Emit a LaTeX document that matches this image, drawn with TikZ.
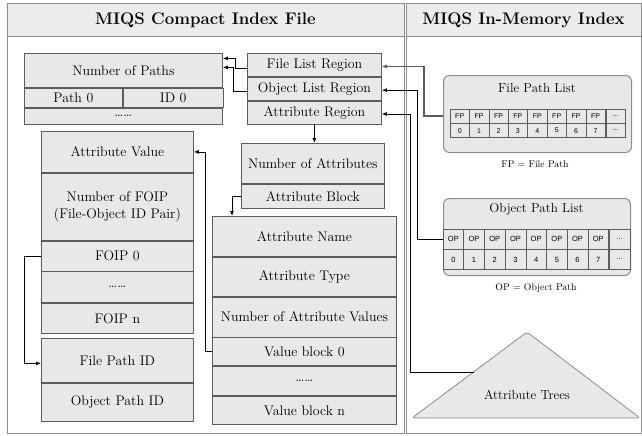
\documentclass[tikz,border=0pt]{standalone}
\usepackage{fontspec}
\newfontfamily\cellfont{Liberation Sans}
\usepackage{tikz}
\usetikzlibrary{arrows.meta, positioning}

\definecolor{boxfill}{HTML}{E8E8E8}
\definecolor{boxline}{HTML}{5C5C5C}
\definecolor{frameline}{HTML}{8C8C8C}
\definecolor{titlefill}{HTML}{ECECEC}

\begin{document}
\begin{tikzpicture}[x=1pt, y=-1pt,
        box/.style={rectangle, draw=boxline, fill=boxfill, line width=0.8pt, inner sep=0pt, align=center, font=\fontsize{13.9}{17}\selectfont},
        title/.style={font=\fontsize{16.8}{20}\selectfont\bfseries},
        listbox/.style={rectangle, rounded corners=6pt, draw=frameline, fill=boxfill, line width=1pt, anchor=north west},
        cell/.style={rectangle, draw=boxline, fill=boxfill, line width=0.6pt, inner sep=0pt, font=\cellfont\fontsize{7}{8}\selectfont},
        note/.style={font=\fontsize{9.8}{11}\selectfont},
        label/.style={font=\fontsize{13}{14}\selectfont},
        arrow/.style={-{Latex[length=5pt, width=4pt]}, line width=0.8pt}
    ]
        \useasboundingbox (0,0) rectangle (642,436);
        % panels
        \draw[frameline, line width=1pt, fill=white] (7,4) rectangle (404,433);
        \draw[frameline, line width=1pt, fill=white] (406.5,4) rectangle (641,433);
        \draw[frameline, line width=1pt, fill=titlefill] (7,4) rectangle (404,37);
        \draw[frameline, line width=1pt, fill=titlefill] (406.5,4) rectangle (641,37);
        \node[title] (ltitle) at (205.5,20.5) {MIQS Compact Index File};
        \node[title] (rtitle) at (523.5,20.5) {MIQS In-Memory Index};

        % path list in the file
        \node[box, minimum width=198, minimum height=34, anchor=north west] (npaths) at (24,53) {Number of Paths};
        \node[box, minimum width=98, minimum height=19, anchor=north west] (path0) at (npaths.south west) {Path 0};
        \node[box, minimum width=100, minimum height=19, anchor=north west] (id0) at (path0.north east) {ID 0};
        \node[box, minimum width=198, minimum height=16, anchor=north west] (pdots) at (path0.south west) {\dots\dots};

        % regions
        \node[box, minimum width=134, minimum height=23, anchor=north west] (flist) at (247,53) {File List Region};
        \node[box, minimum width=134, minimum height=23, below=0pt of flist] (olist) {Object List Region};
        \node[box, minimum width=134, minimum height=23, below=0pt of olist] (aregion) {Attribute Region};

        \node[box, minimum width=143, minimum height=40, anchor=north west] (nattr) at (241,143) {Number of Attributes};
        \node[box, minimum width=143, minimum height=24, below=0pt of nattr] (ablock) {Attribute Block};

        % attribute value
        \node[box, minimum width=152, minimum height=41, anchor=north west] (aval) at (41,131) {Attribute Value};
        \node[box, minimum width=152, minimum height=67, below=0pt of aval] (nfoip) {Number of FOIP\\(File-Object ID Pair)};
        \node[box, minimum width=152, minimum height=30, below=0pt of nfoip] (foip0) {FOIP 0};
        \node[box, minimum width=152, minimum height=31, below=0pt of foip0] (fdots) {\dots\dots};
        \node[box, minimum width=152, minimum height=30, below=0pt of fdots] (foipn) {FOIP n};

        \node[box, minimum width=152, minimum height=44, anchor=north west] (fpid) at (41,338) {File Path ID};
        \node[box, minimum width=152, minimum height=38, below=0pt of fpid] (opid) {Object Path ID};

        % attribute block
        \node[box, minimum width=184, minimum height=40, anchor=north west] (aname) at (212,216) {Attribute Name};
        \node[box, minimum width=184, minimum height=39, below=0pt of aname] (atype) {Attribute Type};
        \node[box, minimum width=184, minimum height=40, below=0pt of atype] (navals) {Number of Attribute Values};
        \node[box, minimum width=184, minimum height=28, below=0pt of navals] (vb0) {Value block 0};
        \node[box, minimum width=184, minimum height=29, below=0pt of vb0] (vdots) {\dots\dots};
        \node[box, minimum width=184, minimum height=28, below=0pt of vdots] (vbn) {Value block n};

        % file path list
        \node[listbox, minimum width=188, minimum height=77] (fpl) at (443,75) {};
        \node[label] (fpltitle) at (537,88) {File Path List};
        \foreach \i in {0,...,7} {
            \node[cell, minimum width=19.4, minimum height=14] (fp\i) at (459.7+19.4*\i,116) {FP};
            \node[cell, minimum width=19.4, minimum height=14, below=0pt of fp\i] (fpn\i) {\i};
        }
        \node[cell, minimum width=19.4, minimum height=14, right=0pt of fp7] (fp8) {...};
        \node[cell, minimum width=19.4, minimum height=14, below=0pt of fp8] (fpn8) {...};
        \node[note] (fpnote) at (535,164) {FP = File Path};

        % object path list
        \node[listbox, minimum width=187, minimum height=77] (opl) at (443,198) {};
        \node[label] (opltitle) at (536.5,209) {Object Path List};
        \foreach \i in {0,...,7} {
            \node[cell, minimum width=20.7, minimum height=20, font=\cellfont\fontsize{7.5}{8}\selectfont] (op\i) at (453.35+20.7*\i,239) {OP};
            \node[cell, minimum width=20.7, minimum height=20, font=\cellfont\fontsize{7.5}{8}\selectfont, below=0pt of op\i] (opn\i) {\i};
        }
        \node[cell, minimum width=20.7, minimum height=20, right=0pt of op7] (op8) {...};
        \node[cell, minimum width=20.7, minimum height=20, below=0pt of op8] (opn8) {...};
        \node[note] (opnote) at (536,288) {OP = Object Path};

        % attribute trees
        \coordinate (tapex) at (527,332);
        \coordinate (tleft) at (412,418);
        \coordinate (tright) at (640,418);
        \filldraw[fill=boxfill, draw=frameline, line width=0.8pt, rounded corners=3pt] (tleft) -- (tapex) -- (tright) -- cycle;
        \node[label] (trees) at (527,395) {Attribute Trees};
        \coordinate (tedge) at (473.5,372);

        % connectors
        \draw[arrow] ([yshift=-3.5pt]flist.west) -- ++(-12,0) |- ([yshift=12pt]npaths.east);
        \draw[arrow] ([yshift=-2.5pt]olist.west) -- ++(-14,0) |- ([yshift=3pt]npaths.east);
        \draw[arrow] (aregion.south) -- (aregion.south |- nattr.north);
        \draw[arrow] (ablock.west) -| ([xshift=20pt]aname.north west);
        \draw[arrow] (vb0.west) -- ++(-7,0) |- (aval.east);
        \draw[arrow] (foip0.west) -- ++(-17,0) |- ([yshift=-3pt]fpid.west);
        \draw[arrow, draw=boxline, line width=1.1pt] (fpl.west |- fp0) -- ++(-19,0) |- ([yshift=-1.5pt]flist.east);
        \draw[arrow] (opl.west |- op0) -- ++(-26,0) |- ([yshift=-1.5pt]olist.east);
        \draw[arrow] (tedge) -- ++(-63.5,0) |- ([yshift=-1.5pt]aregion.east);
    \end{tikzpicture}
\end{document}
